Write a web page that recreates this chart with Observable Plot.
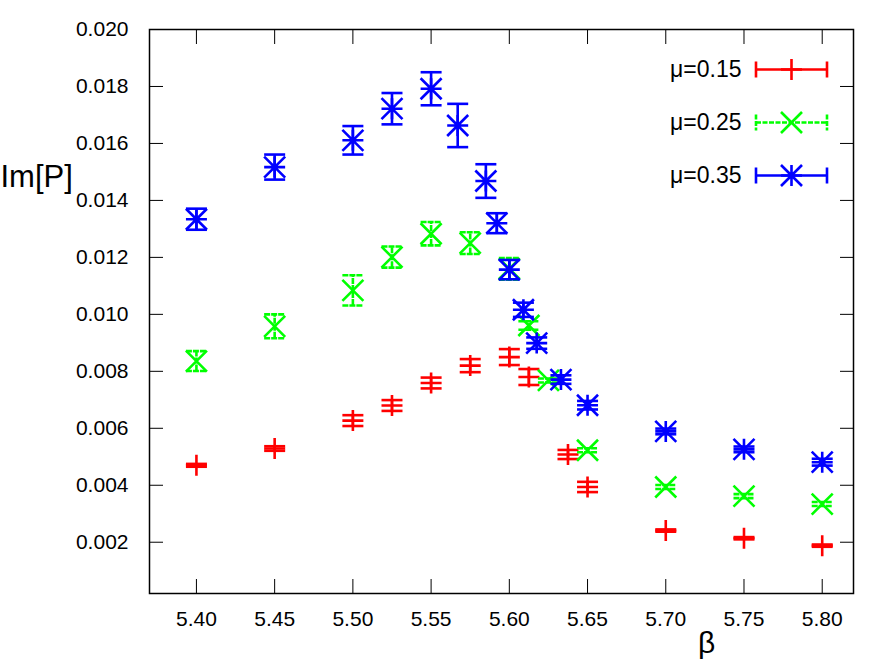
<!DOCTYPE html>
<html>
<head>
<meta charset="utf-8">
<script src="https://cdn.jsdelivr.net/npm/d3@7"></script>
<script src="https://cdn.jsdelivr.net/npm/@observablehq/plot@0.6"></script>
<style>
  html, body { margin: 0; padding: 0; background: #fff; }
</style>
</head>
<body>
<div id="chart"></div>
<script>
// ---- data ----
const seriesLabels = ["μ=0.15", "μ=0.25", "μ=0.35"];
const seriesColors = ["#ff0000", "#00ff00", "#0000ff"];

const beta15 = [5.40, 5.45, 5.50, 5.525, 5.55, 5.575, 5.60, 5.6125, 5.6375, 5.65, 5.70, 5.75, 5.80];
const im15   = [0.00470, 0.00529, 0.00627, 0.00680, 0.00759, 0.00820, 0.00850, 0.00780, 0.00508, 0.00394, 0.00241, 0.00214, 0.00188];
const err15  = [0.00005, 0.00008, 0.00019, 0.00019, 0.00019, 0.00023, 0.00028, 0.00028, 0.00016, 0.00018, 0.00004, 0.00004, 0.00004];

const beta25 = [5.40, 5.45, 5.50, 5.525, 5.55, 5.575, 5.60, 5.6125, 5.625, 5.65, 5.70, 5.75, 5.80];
const im25   = [0.00836, 0.00958, 0.01084, 0.01201, 0.01283, 0.01250, 0.01160, 0.00961, 0.00768, 0.00523, 0.00394, 0.00362, 0.00334];
const err25  = [0.00035, 0.00042, 0.00053, 0.00037, 0.00041, 0.00038, 0.00038, 0.00015, 0.00007, 0.00007, 0.00007, 0.00007, 0.00007];

const beta35 = [5.40, 5.45, 5.50, 5.525, 5.55, 5.567, 5.585, 5.592, 5.60, 5.609, 5.6175, 5.633, 5.65, 5.70, 5.75, 5.80];
const im35   = [0.01334, 0.01517, 0.01611, 0.01722, 0.01792, 0.01663, 0.01468, 0.01320, 0.01157, 0.01016, 0.00899, 0.00771, 0.00681, 0.00589, 0.00526, 0.00481];
const err35  = [0.00037, 0.00044, 0.00050, 0.00055, 0.00058, 0.00076, 0.00059, 0.00035, 0.00034, 0.00025, 0.00020, 0.00015, 0.00015, 0.00010, 0.00010, 0.00012];

const xTicks = [5.40, 5.45, 5.50, 5.55, 5.60, 5.65, 5.70, 5.75, 5.80];
const yTicks = [0.002, 0.004, 0.006, 0.008, 0.010, 0.012, 0.014, 0.016, 0.018, 0.020];
const xDomain = [5.37, 5.82];
const yDomain = [0.0002, 0.020];

// ---- build rows ----
const makeRows = (b, v, e) => b.map((x, i) => ({beta: x, v: v[i], e: e[i]}));
const series = [makeRows(beta15, im15, err15), makeRows(beta25, im25, err25), makeRows(beta35, im35, err35)];

// ---- custom line symbols (gnuplot style) ----
const rad = (size) => Math.sqrt(size / Math.PI);
const symPlus = {draw(c, s) { const r = rad(s); c.moveTo(-r, 0); c.lineTo(r, 0); c.moveTo(0, -r); c.lineTo(0, r); }};
const symTimes = {draw(c, s) { const r = rad(s); c.moveTo(-r, -r); c.lineTo(r, r); c.moveTo(-r, r); c.lineTo(r, -r); }};
const symStar = {draw(c, s) { const r = rad(s); c.moveTo(-r, 0); c.lineTo(r, 0); c.moveTo(0, -r); c.lineTo(0, r);
  c.moveTo(-r, -r); c.lineTo(r, r); c.moveTo(-r, r); c.lineTo(r, -r); }};
const symCap = {draw(c, s) { const r = rad(s); c.moveTo(-r, 0); c.lineTo(r, 0); }};
const symLegendLine = {draw(c, s) { const r = rad(s); const h = 8; c.moveTo(-r, 0); c.lineTo(r, 0);
  c.moveTo(-r, -h); c.lineTo(-r, h); c.moveTo(r, -h); c.lineTo(r, h); }};
const symbols = [symPlus, symTimes, symStar];
const dashes = [null, "6,1", null];

const R = 10.5, SW = 2.6;
const marks = [];

series.forEach((rows, i) => {
  const color = seriesColors[i];
  marks.push(
    Plot.ruleX(rows, {x: "beta", y1: d => d.v - d.e, y2: d => d.v + d.e, stroke: color, strokeWidth: SW, strokeDasharray: dashes[i]}),
    Plot.dot(rows, {x: "beta", y: d => d.v - d.e, symbol: symCap, r: R, stroke: color, fill: "none", strokeWidth: SW, strokeDasharray: dashes[i]}),
    Plot.dot(rows, {x: "beta", y: d => d.v + d.e, symbol: symCap, r: R, stroke: color, fill: "none", strokeWidth: SW, strokeDasharray: dashes[i]}),
    Plot.dot(rows, {x: "beta", y: "v", symbol: symbols[i], r: R, stroke: color, fill: "none", strokeWidth: SW})
  );
});

// legend (inside the frame, top right)
seriesLabels.forEach((lab, i) => {
  const color = seriesColors[i];
  const dy = 40 + 53 * i;
  marks.push(
    Plot.text([lab], {frameAnchor: "top-right", dx: -112, dy, text: d => d, textAnchor: "end", lineAnchor: "middle", fontSize: 23, fill: "black"}),
    Plot.dot([0], {frameAnchor: "top-right", dx: -62, dy, symbol: symLegendLine, r: 35.5, stroke: color, fill: "none", strokeWidth: SW, strokeDasharray: dashes[i] ? "5,1.5" : null}),
    Plot.dot([0], {frameAnchor: "top-right", dx: -62, dy, symbol: symbols[i], r: R, stroke: color, fill: "none", strokeWidth: SW})
  );
});

const chart = Plot.plot({
  width: 893,
  height: 670,
  marginLeft: 149,
  marginRight: 40,
  marginTop: 29,
  marginBottom: 77,
  style: {fontFamily: "'Liberation Sans', Arial, Helvetica, sans-serif", fontSize: "21px", background: "#fff", color: "black"},
  x: {domain: xDomain},
  y: {domain: yDomain},
  marks: [
    Plot.axisY({ticks: yTicks, anchor: "left", tickSize: -14, tickPadding: 35, tickFormat: d3.format(".3f"), fontSize: 21, label: null}),
    Plot.axisY({ticks: yTicks, anchor: "right", tickSize: -14, tickFormat: () => "", label: null}),
    Plot.axisX({ticks: xTicks, anchor: "bottom", tickSize: -14, tickPadding: 32, tickFormat: d3.format(".2f"), fontSize: 21, label: null}),
    Plot.axisX({ticks: xTicks, anchor: "top", tickSize: -14, tickFormat: () => "", label: null}),
    Plot.frame({stroke: "black", strokeWidth: 1.5}),
    ...marks,
    Plot.text(["Im[P]"], {frameAnchor: "top-left", dx: -149, dy: 148, text: d => d, textAnchor: "start", lineAnchor: "middle", fontSize: 31, fill: "black"}),
    Plot.text(["β"], {frameAnchor: "bottom-left", dx: 557, dy: 50, text: d => d, textAnchor: "middle", lineAnchor: "middle", fontSize: 30, fill: "black"})
  ]
});
document.getElementById("chart").appendChild(chart);
</script>
</body>
</html>
